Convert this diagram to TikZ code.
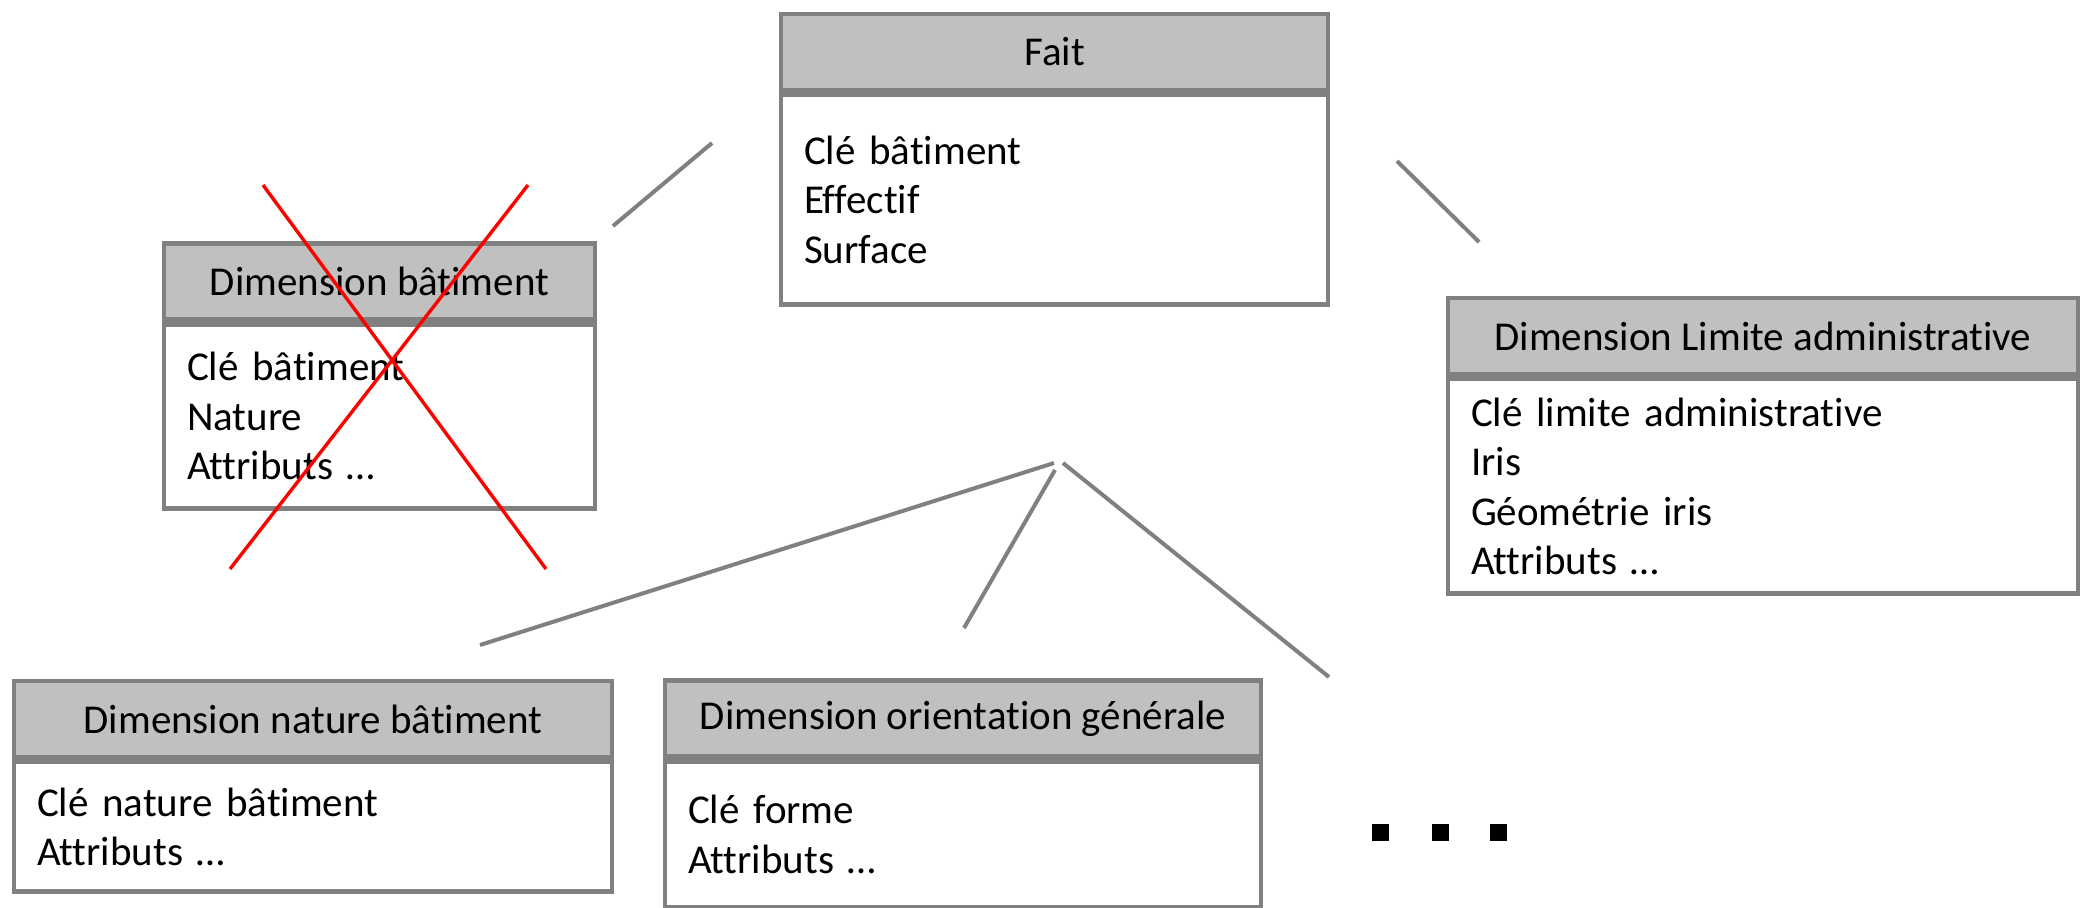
\documentclass[tikz,border=0pt]{standalone}
\usepackage{fontspec}
\setmainfont[Ligatures=NoCommon]{Carlito}
\usetikzlibrary{positioning}
\definecolor{boxgray}{HTML}{808080}
\definecolor{headgray}{HTML}{C0C0C0}

\begin{document}
\begin{tikzpicture}[x=0.5pt,y=-0.5pt,inner sep=0pt,outer sep=0pt,
font=\fontsize{20.5pt}{24.7pt}\selectfont,
tablehead/.style={draw=boxgray,fill=headgray,line width=2.4pt,rectangle,minimum height=38pt},
tablebody/.style={draw=boxgray,fill=white,line width=2.4pt,rectangle,inner xsep=11.5pt,align=left},
link/.style={draw=boxgray,line width=2pt},
cross/.style={draw=red,line width=1.7pt}]

\useasboundingbox (0,0) rectangle (2089,907);

% fact table
\draw (1054.5,52) node[tablehead,minimum width=273.5pt] (fait) {Fait};
\node[tablebody,below=2.4pt of fait,text width=250.5pt,minimum height=105pt] (faitbody) {Clé bâtiment\\Effectif\\Surface};

% dimensions
\draw (379.5,281.5) node[tablehead,minimum width=215.5pt] (dimbat) {Dimension bâtiment};
\node[tablebody,below=2.4pt of dimbat,text width=192.5pt,minimum height=92pt] (dimbatbody) {Clé bâtiment\\Nature\\Attributs …};

\draw (1763,336) node[tablehead,minimum width=315pt] (dimlim) {Dimension Limite administrative};
\node[tablebody,below=2.4pt of dimlim,text width=292pt,minimum height=107.5pt] (dimlimbody) {Clé limite administrative\\Iris\\Géométrie iris\\Attributs …};

\draw (313,719) node[tablehead,minimum width=299pt] (dimnat) {Dimension nature bâtiment};
\node[tablebody,below=2.4pt of dimnat,text width=276pt,minimum height=65pt] (dimnatbody) {Clé nature bâtiment\\Attributs …};

\draw (963,718.5) node[tablehead,minimum width=298pt] (dimori) {Dimension orientation générale};
\node[tablebody,below=2.4pt of dimori,text width=275pt,minimum height=73pt] (dimoribody) {Clé forme\\Attributs …};

% links
\coordinate (l1a) at (613,226);  \coordinate (l1b) at (712,143);
\coordinate (l2a) at (1397,161); \coordinate (l2b) at (1479,242);
\coordinate (l3a) at (480,645);  \coordinate (l3b) at (1054,463);
\coordinate (l4a) at (964,628);  \coordinate (l4b) at (1055,470);
\coordinate (l5a) at (1063,463); \coordinate (l5b) at (1329,677);
\draw[link] (l1a) -- (l1b);
\draw[link] (l2a) -- (l2b);
\draw[link] (l3a) -- (l3b);
\draw[link] (l4a) -- (l4b);
\draw[link] (l5a) -- (l5b);

% removed dimension
\coordinate (xa) at (263,185); \coordinate (xb) at (546,569);
\coordinate (xc) at (528,185); \coordinate (xd) at (230,569);
\draw[cross] (xa) -- (xb);
\draw[cross] (xc) -- (xd);

\foreach \i/\xx in {1/1380,2/1440,3/1498}
  \node[fill=black,minimum size=8.5pt] (dot\i) at (\xx,832) {};
\end{tikzpicture}
\end{document}
